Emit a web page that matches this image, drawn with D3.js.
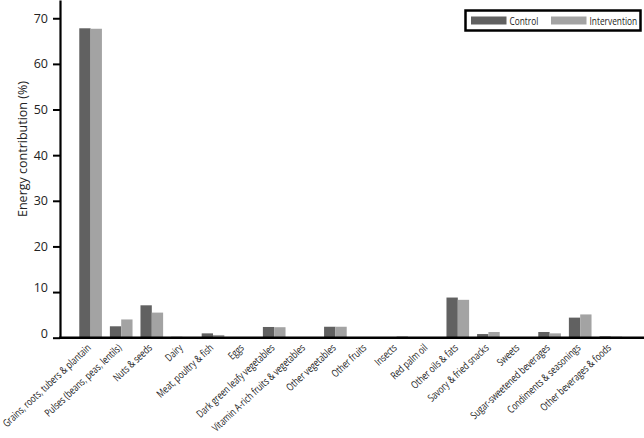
<!DOCTYPE html>
<html>
<head>
<meta charset="utf-8">
<script src="https://cdn.jsdelivr.net/npm/d3@7"></script>
<style>
  body { margin: 0; background: #fff; }
  svg { display: block; }
  text { fill: #222; }
</style>
</head>
<body>
<div id="chart"></div>
<script>
'use strict';

var categories = [
  'Grains, roots, tubers & plantain',
  'Pulses (beans, peas, lentils)',
  'Nuts & seeds',
  'Dairy',
  'Meat, poultry & fish',
  'Eggs',
  'Dark green leafy vegetables',
  'Vitamin A-rich fruits & vegetables',
  'Other vegetables',
  'Other fruits',
  'Insects',
  'Red palm oil',
  'Other oils & fats',
  'Savory & fried snacks',
  'Sweets',
  'Sugar-sweetened beverages',
  'Condiments & seasonings',
  'Other beverages & foods'
];

var control = [67.8, 2.5, 7.1, 0.2, 0.95, 0, 2.35, 0, 2.4, 0, 0, 0, 8.8, 0.8, 0, 1.25, 4.4, 0.3];
var intervention = [67.7, 4.0, 5.5, 0.15, 0.6, 0, 2.3, 0, 2.4, 0, 0.3, 0, 8.3, 1.25, 0, 0.95, 5.1, 0.25];

var seriesNames = ['Control', 'Intervention'];
var seriesColors = ['#616161', '#a3a3a3'];
var yTicks = [0, 10, 20, 30, 40, 50, 60, 70];

var width = 644, height = 438;
var x0 = 60, yBase = 337.7;
var FONT = '"Open Sans", sans-serif';

var svg = d3.select('#chart').append('svg')
  .attr('width', width)
  .attr('height', height);

var x = d3.scaleBand()
  .domain(categories)
  .range([x0, 641.4])
  .paddingInner(0.26)
  .paddingOuter(0.63);

var xs = d3.scaleBand()
  .domain(seriesNames)
  .range([0, x.bandwidth()]);

var y = d3.scaleLinear()
  .domain([0, 74])
  .range([yBase, 0]);

var rows = categories.map(function(c, i) {
  return {cat: c, values: [control[i], intervention[i]]};
});

// bars
var groups = svg.append('g').selectAll('g')
  .data(rows)
  .join('g')
  .attr('transform', function(d) { return 'translate(' + x(d.cat) + ',0)'; });

groups.selectAll('rect')
  .data(function(d) { return d.values.map(function(v, j) { return {name: seriesNames[j], v: v, j: j}; }); })
  .join('rect')
  .attr('x', function(d) { return xs(d.name); })
  .attr('width', xs.bandwidth())
  .attr('y', function(d) { return y(d.v); })
  .attr('height', function(d) { return yBase - y(d.v); })
  .attr('fill', function(d) { return seriesColors[d.j]; });

// y axis
var yAxis = svg.append('g')
  .attr('transform', 'translate(' + x0 + ',0)')
  .call(d3.axisLeft(y).tickValues(yTicks).tickSize(7).tickPadding(5).tickSizeOuter(0));
yAxis.select('.domain').attr('stroke', '#000').attr('stroke-width', 2.2);
yAxis.selectAll('.tick line').attr('stroke', '#000').attr('stroke-width', 2);
yAxis.selectAll('.tick text')
  .style('font-family', FONT)
  .style('font-size', '12.5px')
  .attr('fill', '#222')
  .attr('dy', function(d) { return d <= 10 ? '-0.05em' : '0.32em'; });

// x axis
var xAxis = svg.append('g')
  .attr('transform', 'translate(0,' + yBase + ')')
  .call(d3.axisBottom(x).tickSize(0).tickPadding(0).tickSizeOuter(0));
xAxis.select('.domain').attr('d', 'M' + (x0 - 1) + ',0H' + width)
  .attr('stroke', '#000').attr('stroke-width', 2.6);

var xText = xAxis.selectAll('.tick text')
  .style('font-family', FONT)
  .style('font-size', '10.5px')
  .attr('fill', '#222')
  .attr('text-anchor', 'end')
  .attr('dy', null);

// the original labels are set in a narrow face, squeeze to match
var firstLen = xText.node().getComputedTextLength();
var squeeze = 116 / firstLen;
xText.attr('transform', 'translate(1,11) rotate(-43) scale(' + squeeze + ',1)');

// y label
svg.append('text')
  .attr('transform', 'translate(27,149) rotate(-90)')
  .attr('text-anchor', 'middle')
  .style('font-family', FONT)
  .style('font-size', '12.5px')
  .text('Energy contribution (%)');

// legend
var legend = svg.append('g');
legend.append('rect')
  .attr('x', 465.5).attr('y', 10.5)
  .attr('width', 175).attr('height', 20)
  .attr('fill', '#fff').attr('stroke', '#000').attr('stroke-width', 2.5);

var legendX = [471, 551];
var items = legend.selectAll('g.item')
  .data(seriesNames)
  .join('g')
  .attr('class', 'item')
  .attr('transform', function(d, i) { return 'translate(' + legendX[i] + ',0)'; });
items.append('rect')
  .attr('x', 0).attr('y', 16.5)
  .attr('width', 35.5).attr('height', 8)
  .attr('fill', function(d, i) { return seriesColors[i]; });
items.append('text')
  .attr('transform', 'translate(38.5,24.5) scale(' + Math.min(1, squeeze * 1.05) + ',1)')
  .style('font-family', FONT)
  .style('font-size', '10.5px')
  .text(function(d) { return d; });
</script>
</body>
</html>
